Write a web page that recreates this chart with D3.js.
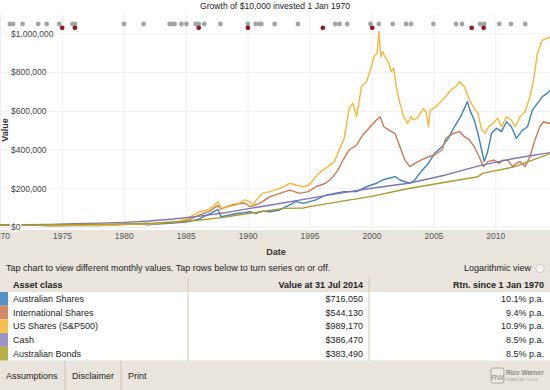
<!DOCTYPE html>
<html><head><meta charset="utf-8">
<script src="https://cdn.jsdelivr.net/npm/d3@7"></script>
<style>
html,body{margin:0;padding:0;background:#fff;}
svg{display:block;font-family:"Liberation Sans",Arial,Helvetica,sans-serif;}
</style></head>
<body>
<svg id="c" width="550" height="390"></svg>
<script>
// ---- DATA (values in thousands of dollars, dates as decimal years) ----
const seriesNames = ["Australian Shares","International Shares","US Shares (S&P500)","Cash","Australian Bonds"];
const seriesColors = ["#3f83b8","#c87a52","#f5b73a","#7d74b2","#a99a2c"];
const swatchColors = ["#5593c3","#d48a66","#f7c04e","#9a93c5","#bcae46"];
const finalValues = ["$716,050","$544,130","$989,170","$386,470","$383,490"];
const returns = ["10.1% p.a.","9.4% p.a.","10.9% p.a.","8.5% p.a.","8.5% p.a."];

const ausShares = [[1970,10],[1971,9],[1972,10],[1973,9],[1974,6],[1975,7],[1976,7],[1977,7.5],[1978,8],[1979,10],[1980,15],[1981,16],[1982,12],[1983,17],[1984,20],[1985,26],[1985.5,32],[1986,40],[1986.5,55],[1987,70],[1987.6,91],[1987.85,53],[1988.3,58],[1988.8,66],[1989.3,71],[1989.8,75],[1990.2,79],[1990.7,70],[1991.2,82],[1991.8,79],[1992.6,88],[1993.4,114],[1993.9,131],[1994.5,122],[1995,131],[1995.5,140],[1996.3,165],[1997,174],[1997.8,183],[1998.8,183],[1999.6,208],[2000.4,226],[2000.9,243],[2001.4,252],[2001.9,260],[2002.3,243],[2002.7,234],[2003.1,226],[2003.5,243],[2004,286],[2004.6,329],[2005.1,381],[2005.7,415],[2006.2,458],[2006.7,518],[2007.2,570],[2007.75,648],[2007.95,604],[2008.3,553],[2008.6,484],[2008.9,398],[2009.1,338],[2009.35,381],[2009.7,484],[2010.1,510],[2010.5,493],[2010.9,544],[2011.3,518],[2011.7,458],[2012.2,501],[2012.6,518],[2013,604],[2013.4,639],[2013.8,674],[2014.2,691],[2014.58,716]];
const intShares = [[1970,10],[1971,10],[1972,11],[1973,10],[1974,7.5],[1975,8],[1976,8.5],[1977,8.5],[1978,10],[1979,11],[1980,13],[1981,15],[1982,14],[1983,20],[1984,24],[1984.5,26],[1985,33],[1985.5,45],[1986,60],[1986.5,70],[1987,85],[1987.6,112],[1987.85,92],[1988.3,105],[1988.8,115],[1989.3,120],[1989.75,124],[1990.2,105],[1990.7,115],[1991.2,131],[1991.8,157],[1992.6,174],[1993.4,191],[1994.2,174],[1994.9,183],[1995.5,208],[1996.3,226],[1996.9,260],[1997.3,295],[1997.7,346],[1998.2,398],[1998.8,424],[1999.3,475],[1999.9,518],[2000.4,553],[2000.7,570],[2001,518],[2001.4,501],[2001.9,484],[2002.3,415],[2002.7,346],[2003.1,312],[2003.5,329],[2004,346],[2004.6,363],[2005.1,372],[2005.7,398],[2006,458],[2006.6,484],[2007.1,493],[2007.5,467],[2007.9,450],[2008.3,415],[2008.7,363],[2009.05,312],[2009.4,338],[2009.9,346],[2010.3,329],[2010.6,345],[2011,346],[2011.4,312],[2011.7,330],[2012,338],[2012.4,312],[2012.8,363],[2013.2,450],[2013.6,518],[2013.9,544],[2014.3,536],[2014.58,544]];
const usShares = [[1970,10],[1971,10.5],[1972,12],[1973,11],[1974,8],[1974.8,7],[1975.5,9],[1976.5,9.5],[1977.5,9],[1978.5,10],[1979.5,12],[1980.5,15],[1981.5,16],[1982.5,16],[1983.3,24],[1984,27],[1984.5,30],[1985,40],[1985.4,55],[1985.8,68],[1986.1,79],[1986.5,84],[1986.9,92],[1987.3,112],[1987.6,131],[1987.85,97],[1988.2,100],[1988.6,108],[1989.1,114],[1989.5,130],[1989.75,140],[1990.16,131],[1990.45,114],[1990.7,140],[1991.2,174],[1991.8,183],[1992.6,200],[1993.4,226],[1993.9,217],[1994.5,208],[1994.95,217],[1995.5,260],[1995.9,286],[1996.5,312],[1997,338],[1997.4,398],[1997.8,458],[1998.2,613],[1998.5,639],[1998.8,570],[1999.2,725],[1999.6,751],[2000,829],[2000.2,880],[2000.45,897],[2000.6,1009],[2000.75,880],[2000.9,906],[2001.1,880],[2001.4,846],[2001.6,803],[2001.8,820],[2002,725],[2002.3,639],[2002.6,570],[2002.9,536],[2003.2,570],[2003.4,553],[2003.8,570],[2004.2,613],[2004.45,587],[2004.6,518],[2004.75,604],[2005.2,622],[2005.6,648],[2006,674],[2006.4,708],[2006.8,725],[2007.1,751],[2007.5,725],[2007.8,674],[2008.2,622],[2008.6,587],[2008.9,501],[2009.2,484],[2009.45,518],[2009.8,536],[2010.2,562],[2010.5,518],[2010.9,570],[2011.3,553],[2011.6,518],[2012,570],[2012.4,596],[2012.8,674],[2013.1,760],[2013.4,897],[2013.8,966],[2014.2,975],[2014.58,989]];
const cash = [[1970,10],[1972,11.5],[1974,13.5],[1976,16.5],[1978,20],[1980,24],[1982,31],[1984,41],[1986,55],[1988,72],[1990.2,96],[1992,115],[1995,148],[1997.5,175],[2000,200],[2003,226],[2006,269],[2008.9,320],[2011.6,355],[2014.58,386]];
const ausBonds = [[1970,10],[1973,11],[1975,12],[1978,15],[1980,16],[1982,19],[1984,26],[1986,35],[1988,50],[1990.2,71],[1992.9,96],[1994.5,98],[1995,105],[1997.4,131],[1999.9,157],[2003.1,200],[2006.2,234],[2008.6,260],[2008.95,277],[2011.6,312],[2013,346],[2014.58,383]];

const xTicks = [1970,1975,1980,1985,1990,1995,2000,2005,2010];
const yTicks = [0,200000,400000,600000,800000,1000000];
const greyEvents = [1970.8,1971.05,1971.83,1973.09,1973.77,1974.78,1975.86,1976.05,1980.02,1981.6,1983.7,1983.93,1984.1,1984.65,1985.06,1985.8,1986.05,1986.5,1987.8,1990.02,1990.65,1990.97,1991.1,1992.18,1994.06,1997.07,1997.42,1998.04,1999.92,2000.59,2001.72,2002.8,2003.2,2005.0,2006.83,2007.31,2008.77,2009.11,2010.32,2011.27,2012.42];
const redEvents = [1975.02,1976.05,1986.05,1990.02,1996.07,2000.06,2008.09,2009.06];

// ---- DRAW ----
const W = 550, H = 390;
const beige = "#e9e5dc";
const svg = d3.select("#c");
const x = d3.scaleLinear().domain([1970, 2014.58]).range([0, 552]);
const y = d3.scaleLinear().domain([0, 1000000]).range([227, 33.5]);

svg.append("rect").attr("width",W).attr("height",H).attr("fill","#fff");
svg.append("rect").attr("y",230).attr("width",W).attr("height",H-230).attr("fill",beige);

svg.append("defs").append("clipPath").attr("id","plot")
  .append("rect").attr("x",0).attr("y",12).attr("width",W).attr("height",218);

// grid
const grid = svg.append("g");
grid.append("g").attr("transform","translate(0,0)")
  .call(d3.axisBottom(x).tickValues(xTicks).tickSize(215).tickFormat(""))
  .attr("transform","translate(0,14)")
  .call(g=>g.select(".domain").remove())
  .call(g=>g.selectAll("line").attr("stroke","#eeeeee"));
grid.append("g")
  .call(d3.axisLeft(y).tickValues(yTicks).tickSize(-W).tickFormat(""))
  .call(g=>g.select(".domain").remove())
  .call(g=>g.selectAll("line").attr("stroke","#eeeeee"));

// lines
const line = d3.line().x(d=>x(d[0])).y(d=>y(d[1]*1000));
const allSeries = [ausShares, intShares, usShares, cash, ausBonds];
const lg = svg.append("g").attr("clip-path","url(#plot)");
allSeries.forEach((s,i)=>{
  lg.append("path").datum(s).attr("d",line).attr("fill","none")
    .attr("stroke",seriesColors[i]).attr("stroke-width",1.4).attr("stroke-linejoin","round");
});

// y axis labels
svg.append("g").attr("transform","translate(11,0)")
  .call(d3.axisRight(y).tickValues(yTicks).tickSize(0).tickPadding(0).tickFormat(d3.format("$,")))
  .call(g=>g.select(".domain").remove())
  .call(g=>g.selectAll("text").attr("font-size",8.5).attr("fill","#444")
      .attr("font-family","Liberation Sans, Arial, sans-serif")
      .attr("stroke","#fff").attr("stroke-width",3).attr("paint-order","stroke").attr("stroke-linejoin","round"));

// x axis labels
svg.append("g").attr("transform","translate(0,230)")
  .call(d3.axisBottom(x).tickValues(xTicks).tickSize(0).tickPadding(3).tickFormat(d3.format("d")))
  .call(g=>g.select(".domain").remove())
  .call(g=>g.selectAll("text").attr("font-size",8.5).attr("fill","#555")
      .attr("font-family","Liberation Sans, Arial, sans-serif"));

// title
svg.append("text").attr("x",275).attr("y",9).attr("text-anchor","middle")
  .attr("font-size",8.6).attr("fill","#222").text("Growth of $10,000 invested 1 Jan 1970");

// event dots
svg.append("g").selectAll("circle").data(greyEvents).join("circle")
  .attr("cx",d=>x(d)).attr("cy",24).attr("r",2.4).attr("fill","#a3a3a3");
svg.append("g").selectAll("circle").data(redEvents).join("circle")
  .attr("cx",d=>x(d)).attr("cy",27.8).attr("r",2.4).attr("fill","#8e1d1d");

// axis titles
svg.append("text").attr("x",276).attr("y",255).attr("text-anchor","middle")
  .attr("font-size",9).attr("font-weight","bold").attr("fill","#333").text("Date");
svg.append("text").attr("transform","translate(8,130) rotate(-90)").attr("text-anchor","middle")
  .attr("font-size",9).attr("font-weight","bold").attr("fill","#333").text("Value");

// instruction + log toggle
svg.append("text").attr("x",6).attr("y",271).attr("font-size",9).attr("fill","#222")
  .text("Tap chart to view different monthly values. Tap rows below to turn series on or off.");
svg.append("text").attr("x",531).attr("y",271).attr("text-anchor","end").attr("font-size",9).attr("fill","#222")
  .text("Logarithmic view");
svg.append("rect").attr("x",536).attr("y",264.5).attr("width",8).attr("height",8).attr("rx",3)
  .attr("fill","#f2f2f2").attr("stroke","#c4c4c4").attr("stroke-width",0.8);

// table
const rowTop = 292, rowH = 13.7;
svg.append("rect").attr("x",0).attr("y",rowTop).attr("width",W).attr("height",rowH*5).attr("fill","#fff");
const hdr = svg.append("g").attr("font-size",9).attr("font-weight","bold").attr("fill","#222");
hdr.append("text").attr("x",13).attr("y",288).text("Asset class");
hdr.append("text").attr("x",363).attr("y",288).attr("text-anchor","end").text("Value at 31 Jul 2014");
hdr.append("text").attr("x",544).attr("y",288).attr("text-anchor","end").text("Rtn. since 1 Jan 1970");
seriesNames.forEach((n,i)=>{
  const cy = rowTop + rowH*i + rowH/2;
  svg.append("rect").attr("x",0).attr("y",rowTop + rowH*i).attr("width",8).attr("height",rowH).attr("fill",swatchColors[i]);
  svg.append("text").attr("x",13).attr("y",cy+3.2).attr("font-size",9).attr("fill","#222").text(n);
  svg.append("text").attr("x",363).attr("y",cy+3.2).attr("text-anchor","end").attr("font-size",9).attr("fill","#222").text(finalValues[i]);
  svg.append("text").attr("x",544).attr("y",cy+3.2).attr("text-anchor","end").attr("font-size",9).attr("fill","#222").text(returns[i]);
});
[188,369].forEach(px=>svg.append("line").attr("x1",px).attr("x2",px).attr("y1",278).attr("y2",rowTop+rowH*5)
  .attr("stroke","#cfc6b6").attr("stroke-width",1));

// footer buttons
[65,121].forEach(px=>svg.append("line").attr("x1",px).attr("x2",px).attr("y1",rowTop+rowH*5).attr("y2",H)
  .attr("stroke","#cfc6b6").attr("stroke-width",1));
[["Assumptions",6],["Disclaimer",72],["Print",128]].forEach(([t,px])=>
  svg.append("text").attr("x",px).attr("y",379).attr("font-size",9).attr("fill","#222").text(t));

// logo
const logo = svg.append("g");
logo.append("rect").attr("x",491).attr("y",368).attr("width",13).attr("height",15).attr("rx",2)
  .attr("fill","#eeeae2").attr("stroke","#999").attr("stroke-width",0.8);
logo.append("text").attr("x",497.5).attr("y",379.5).attr("text-anchor","middle").attr("font-size",8).attr("fill","#888").text("RW");
logo.append("text").attr("x",506).attr("y",375).attr("font-size",6.5).attr("font-weight","bold").attr("fill","#8a8a8a").text("Rice Warner");
logo.append("text").attr("x",506).attr("y",380.5).attr("font-size",3.6).attr("fill","#a5a5a5").text("FINANCIAL TOOLS");
</script>
</body></html>
